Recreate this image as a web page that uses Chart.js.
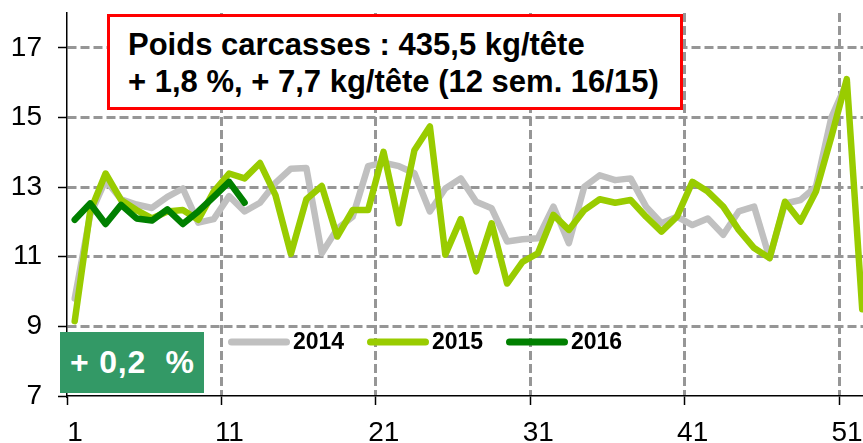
<!DOCTYPE html>
<html>
<head>
<meta charset="utf-8">
<script src="https://cdn.jsdelivr.net/npm/chart.js@4"></script>
<style>
  html, body { margin: 0; padding: 0; background: #fff; overflow: hidden; }
  #wrap { position: relative; width: 863px; height: 443px; overflow: hidden; font-family: "Liberation Sans", Arial, sans-serif; }
  #chart { position: absolute; left: 0; top: 0; }
  #titleBox {
    position: absolute; left: 107px; top: 14px; width: 552px; height: 90px;
    border: 3px solid #ff0000; background: #fff;
    font-weight: bold; font-size: 31px; line-height: 37px; color: #000;
    padding: 0 0 0 18px; box-sizing: content-box; white-space: nowrap;
  }
  #titleBox div:first-child { margin-top: 9px; }
  #pctBox {
    position: absolute; left: 60px; top: 332px; width: 144px; height: 61px;
    background: #339966; color: #fff; font-weight: bold; font-size: 32px;
    line-height: 61px; white-space: pre; text-indent: 10px; letter-spacing: 0.8px;
  }
</style>
</head>
<body>
<div id="wrap">
  <canvas id="chart" width="863" height="443"></canvas>
  <div id="titleBox">
    <div>Poids carcasses : 435,5 kg/tête</div>
    <div>+ 1,8 %, + 7,7 kg/tête (12 sem. 16/15)</div>
  </div>
  <div id="pctBox">+ 0,2  %</div>
</div>
<script>
// Poids carcasses hebdomadaires (kg/tête, en centaines)
const weeks = [1, 2, 3, 4, 5, 6, 7, 8, 9, 10, 11, 12, 13, 14, 15, 16, 17, 18, 19, 20,
  21, 22, 23, 24, 25, 26, 27, 28, 29, 30, 31, 32, 33, 34, 35, 36, 37, 38, 39, 40,
  41, 42, 43, 44, 45, 46, 47, 48, 49, 50, 51, 52];

const y2014 = [9.8, 12.2, 13.2, 12.65, 12.5, 12.4, 12.72, 12.96, 11.98, 12.08,
  12.74, 12.3, 12.55, 13.12, 13.53, 13.55, 11.1, 11.8, 12.15, 13.6,
  13.7, 13.6, 13.4, 12.3, 12.96, 13.25, 12.58, 12.39, 11.44, 11.5,
  11.53, 12.44, 11.39, 13.01, 13.34, 13.2, 13.25, 12.44, 11.96, 12.15,
  11.91, 12.1, 11.63, 12.3, 12.44, 10.96, 12.53, 12.63, 13.01, 15.0,
  16.0, null];

const y2015 = [9.15, 12.3, 13.39, 12.63, 12.34, 12.1, 12.3, 12.34, 12.06, 12.87,
  13.39, 13.25, 13.69, 12.77, 11.08, 12.65, 13.03, 11.58, 12.34, 12.34,
  14.01, 11.96, 14.06, 14.74, 11.06, 12.08, 10.58, 11.96, 10.23, 10.85,
  11.1, 12.2, 11.77, 12.34, 12.65, 12.55, 12.63, 12.15, 11.72, 12.15,
  13.15, 12.87, 12.44, 11.77, 11.25, 10.96, 12.58, 12.01, 12.87, 14.44,
  16.1, 9.49];

const y2016 = [12.06, 12.53, 11.94, 12.49, 12.1, 12.04, 12.36, 11.94, 12.3, 12.72,
  13.15, 12.55];

const yTicks = [7, 9, 11, 13, 15, 17];
const xTickLabels = ['1', '11', '21', '31', '41', '51'];
const xTickBounds = [0.5, 10.5, 20.5, 30.5, 40.5, 50.5];

const FONT = '"Liberation Sans", Arial, sans-serif';
const GRID = '#969696';

function toPoints(values) {
    return values.map((v, i) => ({ x: weeks[i], y: v }));
}

function lineSet(label, values, color, order) {
    return {
        label: label,
        data: toPoints(values),
        borderColor: color,
        backgroundColor: color,
        borderWidth: 6.5,
        pointRadius: 0,
        tension: 0,
        borderJoinStyle: 'round',
        borderCapStyle: 'round',
        spanGaps: false,
        order: order
    };
}

// legend drawn inside the plot, like the original
const insideLegend = {
    id: 'insideLegend',
    afterDatasetsDraw(chart) {
        const ctx = chart.ctx;
        const starts = [228, 367, 506];
        const y = 342;
        ctx.save();
        chart.data.datasets.forEach((ds, i) => {
            const x0 = starts[i];
            ctx.strokeStyle = ds.borderColor;
            ctx.lineWidth = 7;
            ctx.lineCap = 'round';
            ctx.beginPath();
            ctx.moveTo(x0 + 3.5, y);
            ctx.lineTo(x0 + 58.5, y);
            ctx.stroke();
            ctx.fillStyle = '#000';
            ctx.font = 'bold 23px ' + FONT;
            ctx.textBaseline = 'middle';
            ctx.fillText(ds.label, x0 + 65, y + 1);
        });
        ctx.restore();
    }
};

const config = {
    type: 'line',
    data: {
        datasets: [
            lineSet('2014', y2014, '#c0c0c0', 3),
            lineSet('2015', y2015, '#99cc00', 2),
            lineSet('2016', y2016, '#008000', 1)
        ]
    },
    options: {
        responsive: false,
        animation: false,
        devicePixelRatio: 1,
        layout: { padding: { top: 13, left: 0, right: 0, bottom: 0 } },
        plugins: {
            legend: { display: false },
            tooltip: { enabled: false }
        },
        scales: {
            x: {
                type: 'linear',
                min: 0.5,
                max: 52.05,
                afterBuildTicks: (scale) => {
                    scale.ticks = xTickBounds.map(v => ({ value: v }));
                },
                afterFit: (scale) => {
                    scale.height = 47;
                    scale.paddingLeft = 0;
                    scale.paddingRight = 0;
                },
                ticks: {
                    autoSkip: false,
                    maxRotation: 0,
                    padding: 11,
                    labelOffset: 8,
                    color: '#000',
                    font: { family: FONT, size: 28 },
                    callback: (value, index) => xTickLabels[index]
                },
                grid: {
                    color: (c) => (c.tick && c.tick.value === 0.5) ? 'rgba(0,0,0,0)' : GRID,
                    lineWidth: 3,
                    tickLength: 9,
                    tickColor: '#000',
                    tickWidth: 1.5,
                    tickBorderDash: []
                },
                border: { display: true, color: '#000', width: 1.5, dash: [9, 4] }
            },
            y: {
                min: 7,
                max: 18,
                afterBuildTicks: (scale) => {
                    scale.ticks = yTicks.map(v => ({ value: v }));
                },
                afterFit: (scale) => {
                    scale.width = 67;
                    scale.paddingTop = 0;
                    scale.paddingBottom = 0;
                },
                ticks: {
                    padding: 16,
                    color: '#000',
                    font: { family: FONT, size: 28 }
                },
                grid: {
                    color: (c) => (c.tick && c.tick.value === 7) ? 'rgba(0,0,0,0)' : GRID,
                    lineWidth: 3,
                    tickLength: 9,
                    tickColor: '#000',
                    tickWidth: 1.5,
                    tickBorderDash: []
                },
                border: { display: true, color: '#000', width: 1.5, dash: [9, 4] }
            }
        }
    },
    plugins: [insideLegend]
};

const weightChart = new Chart(document.getElementById('chart'), config);
</script>
</body>
</html>
